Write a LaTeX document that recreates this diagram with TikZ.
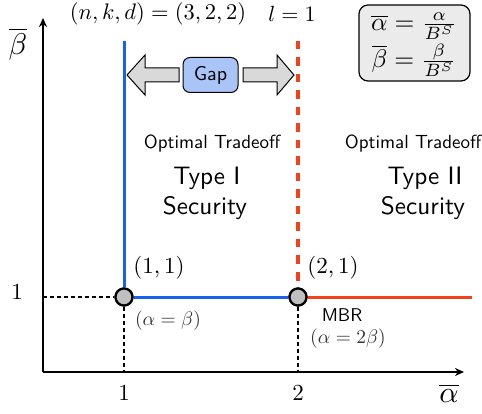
\documentclass[tikz,border=0pt]{standalone}
\usepackage{fontspec}
\usetikzlibrary{arrows.meta}
\definecolor{myblue}{HTML}{1463F0}
\definecolor{myred}{HTML}{F2421C}
\definecolor{gapfill}{HTML}{A9C5F7}
\definecolor{arrfill}{HTML}{D9D9D9}
\definecolor{boxfill}{HTML}{EBEBEB}
\definecolor{ptfill}{HTML}{C0C0C0}
\definecolor{lbl}{HTML}{333333}
\newcommand\sbx[2]{\scalebox{#1}{#2}}
\tikzset{
  axis/.style={line width=1.6pt,-{Stealth[length=9pt,width=8pt]}},
  guide/.style={line width=1.5pt,dash pattern=on 4pt off 3pt},
  pt/.style={circle,draw=black,line width=2.2pt,fill=ptfill,minimum size=17pt,inner sep=0pt},
  txt/.style={inner sep=0pt},
  gaparrow/.style={draw=black,line width=1pt,fill=arrfill,line join=miter}
}
\begin{document}
\begin{tikzpicture}[x=1pt,y=-1pt]
\useasboundingbox (0,0) rectangle (482,414);
% key coordinates
\coordinate (O) at (43,372);
\coordinate (yend) at (43,18);
\coordinate (xend) at (464,372);
\coordinate (y1) at (43,297);
\coordinate (x1) at (124,372);
\coordinate (x2) at (298,372);
\coordinate (btop) at (124,41);
\coordinate (rtop) at (298,41);
\coordinate (rend) at (472,297);
% axes
\draw[axis] (O) -- (yend);
\draw[axis] (O) -- (xend);
% points
\node[pt] (p1) at (124,297) {};
\node[pt] (p2) at (298,297) {};
% guides
\draw[guide] (y1) -- (p1.west);
\draw[guide] (p1.south) -- (x1);
\draw[guide] (p2.south) -- (x2);
% curves
\draw[myblue,line width=3pt] (btop) -- (p1.north);
\draw[myblue,line width=3pt] (p1.east) -- (p2.west);
\draw[myred,line width=3pt] (p2.east) -- (rend);
\draw[myred,line width=4pt,dash pattern=on 8.5pt off 8pt] (rtop) -- (p2.north);
% redraw points on top
\node[pt] at (p1) {};
\node[pt] at (p2) {};
% axis labels
\node[txt] (by) at (18,44) {\sbx{3.0}{$\overline{\beta}$}};
\node[txt] (ax) at (449,393) {\sbx{3.0}{$\overline{\alpha}$}};
\node[txt] (t1x) at (124,393) {\sbx{2.3}{$1$}};
\node[txt] (t2x) at (298,393) {\sbx{2.3}{$2$}};
\node[txt] (t1y) at (17,292) {\sbx{2.3}{$1$}};
% point labels
\node[txt] (l11) at (159,268) {\sbx{2.3}{$(1,1)$}};
\node[txt] (l21) at (333,268) {\sbx{2.3}{$(2,1)$}};
\node[txt,text=lbl] (e1) at (168,321) {\sbx{1.95}{$(\alpha=\beta)$}};
\node[txt] (mbr) at (342,315) {\sbx{1.85}{\sffamily MBR}};
\node[txt,text=lbl] (e2) at (348,339) {\sbx{1.95}{$(\alpha=2\beta)$}};
% top labels
\node[txt] (nkd) at (158,14) {\sbx{2.25}{$(n,k,d)=(3,2,2)$}};
\node[txt] (ell) at (292,14) {\sbx{2.2}{$l=1$}};
% formula box
\node[draw=black,line width=1.2pt,fill=boxfill,rounded corners=9pt,minimum width=111pt,minimum height=76pt,inner sep=0pt] (fbox) at (414.5,43) {};
\node[txt,anchor=base] (fa) at (414,31) {\sbx{2.55}{$\overline{\alpha}=\frac{\alpha}{B^S}$}};
\node[txt,anchor=base] (fb) at (414,68) {\sbx{2.55}{$\overline{\beta}=\frac{\beta}{B^S}$}};
% gap
\node[draw=black,line width=1pt,fill=gapfill,rounded corners=7pt,minimum width=55pt,minimum height=35pt,inner sep=0pt] (gap) at (210.5,75) {\sbx{2.0}{\sffamily Gap}};
\draw[gaparrow] (127,75) -- (145,55) -- (145,68) -- (179,68) -- (179,82) -- (145,82) -- (145,95) -- cycle;
\draw[gaparrow] (294,75) -- (277,55) -- (277,68) -- (243,68) -- (243,82) -- (277,82) -- (277,95) -- cycle;
% region texts
\node[txt,anchor=base] (ot1) at (212,149) {\sbx{1.9}{\sffamily Optimal Tradeoff}};
\node[txt,anchor=base] (ty1) at (207,185) {\sbx{2.52}{\sffamily Type I}};
\node[txt,anchor=base] (se1) at (205,215) {\sbx{2.52}{\sffamily Security}};
\node[txt,anchor=base] (ot2) at (413,149) {\sbx{1.9}{\sffamily Optimal Tradeoff}};
\node[txt,anchor=base] (ty2) at (425,185) {\sbx{2.52}{\sffamily Type II}};
\node[txt,anchor=base] (se2) at (423,215) {\sbx{2.52}{\sffamily Security}};
\end{tikzpicture}
\end{document}
